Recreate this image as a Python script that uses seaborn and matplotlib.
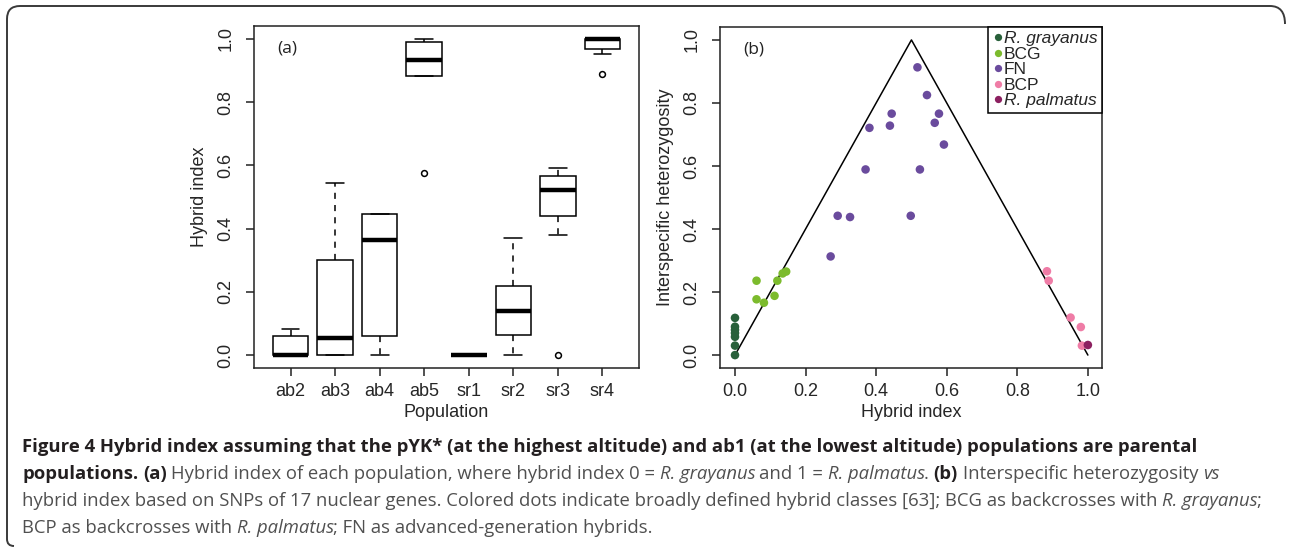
import matplotlib
matplotlib.use("Agg")
import matplotlib.pyplot as plt
import numpy as np
import pandas as pd
import seaborn as sns
from matplotlib.path import Path
from matplotlib.patches import PathPatch
from matplotlib.transforms import IdentityTransform
from matplotlib.ticker import FormatStrFormatter

populations = ["ab2", "ab3", "ab4", "ab5", "sr1", "sr2", "sr3", "sr4"]
ab2 = [0.0, 0.0, 0.0, 0.0, 0.0, 0.03, 0.061, 0.07, 0.083]
ab3 = [0.0, 0.0, 0.0, 0.02, 0.055, 0.15, 0.30, 0.45, 0.545]
ab4 = [0.0, 0.03, 0.06, 0.20, 0.365, 0.40, 0.445, 0.445, 0.445]
ab5 = [0.577, 0.883, 0.883, 0.90, 0.932, 0.96, 0.99, 1.0, 1.0]
sr1 = [0.0, 0.0, 0.0, 0.0, 0.0, 0.0, 0.0, 0.0, 0.0]
sr2 = [0.0, 0.03, 0.062, 0.10, 0.14, 0.18, 0.219, 0.30, 0.37]
sr3 = [0.0, 0.381, 0.439, 0.48, 0.521, 0.55, 0.567, 0.58, 0.592]
sr4 = [0.89, 0.951, 0.967, 0.98, 1.0, 1.0, 1.0, 1.0, 1.0]
pop_values = [ab2, ab3, ab4, ab5, sr1, sr2, sr3, sr4]

# ---- panel (b): hybrid index vs interspecific heterozygosity ----
classes = ["R. grayanus", "BCG", "FN", "BCP", "R. palmatus"]
gray_x = [0, 0, 0, 0, 0, 0, 0]
gray_y = [0.118, 0.09, 0.08, 0.07, 0.058, 0.03, 0.0]
bcg_x = [0.061, 0.061, 0.082, 0.112, 0.120, 0.135, 0.145]
bcg_y = [0.236, 0.177, 0.166, 0.188, 0.236, 0.259, 0.265]
fn_x = [0.271, 0.291, 0.326, 0.370, 0.381, 0.439, 0.444, 0.498, 0.517, 0.524, 0.544, 0.566, 0.578, 0.592]
fn_y = [0.313, 0.442, 0.438, 0.589, 0.721, 0.728, 0.766, 0.442, 0.913, 0.589, 0.825, 0.737, 0.766, 0.668]
bcp_x = [0.884, 0.889, 0.951, 0.980, 0.983]
bcp_y = [0.266, 0.236, 0.119, 0.089, 0.030]
palm_x = [1.0]
palm_y = [0.032]
class_colors = ["#28603a", "#7cbb2d", "#6a4b9d", "#ef7ca6", "#8c2060"]
tri_x = [0.0, 0.5, 1.0]
tri_y = [0.0, 1.0, 0.0]

caption = [
    [("Figure 4 Hybrid index assuming that the pYK* (at the highest altitude) and ab1 (at the lowest altitude) populations are parental", "b")],
    [("populations.", "b"), (" (a)", "b"), (" Hybrid index of each population, where hybrid index 0 = ", "r"),
     ("R. grayanus", "i"), (" and 1 = ", "r"), ("R. palmatus", "i"), (". ", "r"), ("(b)", "b"),
     (" Interspecific heterozygosity ", "r"), ("vs", "i")],
    [("hybrid index based on SNPs of 17 nuclear genes. Colored dots indicate broadly defined hybrid classes [63]; BCG as backcrosses with ", "r"),
     ("R. grayanus", "i"), (";", "r")],
    [("BCP as backcrosses with ", "r"), ("R. palmatus", "i"), ("; FN as advanced-generation hybrids.", "r")],
]

# ---------------------------------------------------------------
sns.set_style("ticks")
plt.rcParams["font.family"] = ["Liberation Sans", "DejaVu Sans"]

W, H = 1289, 547
fig = plt.figure(figsize=(W / 100, H / 100), dpi=100)

def ax_rect(l, t, r, b):
    return [l / W, 1 - b / H, (r - l) / W, (b - t) / H]

ax1 = fig.add_axes(ax_rect(254, 26, 639, 368))
ax2 = fig.add_axes(ax_rect(720, 27, 1102, 368))

lw = 1.1
fs = 13
box_df = pd.DataFrame({
    "Population": np.repeat(populations, [len(v) for v in pop_values]),
    "Hybrid index": np.concatenate(pop_values),
})
sns.boxplot(data=box_df, x="Population", y="Hybrid index", order=populations, ax=ax1,
            color="white", linecolor="black", linewidth=lw, width=0.8,
            whiskerprops={"linestyle": (0, (4, 4))},
            medianprops={"linewidth": 3.2, "solid_capstyle": "butt"},
            flierprops={"marker": "o", "markersize": 4.2, "markerfacecolor": "none",
                        "markeredgecolor": "black", "markeredgewidth": 1.1})
ax1.set_xlim(-0.82, 7.82)
ax1.set_ylim(-0.041, 1.041)

scat_df = pd.DataFrame({
    "x": np.concatenate([gray_x, bcg_x, fn_x, bcp_x, palm_x]),
    "y": np.concatenate([gray_y, bcg_y, fn_y, bcp_y, palm_y]),
    "cls": np.repeat(classes, [len(gray_x), len(bcg_x), len(fn_x), len(bcp_x), len(palm_x)]),
})
sns.lineplot(x=tri_x, y=tri_y, sort=False, color="black", linewidth=1.1, ax=ax2)
sns.scatterplot(data=scat_df, x="x", y="y", hue="cls", hue_order=classes,
                palette=dict(zip(classes, class_colors)), s=38, linewidth=0, ax=ax2, zorder=3)
ax2.set_xlim(-0.0425, 1.04)
ax2.set_ylim(-0.041, 1.041)
ax2.set_xticks([0, 0.2, 0.4, 0.6, 0.8, 1.0])

sns.move_legend(ax2, "upper right", bbox_to_anchor=(1, 1), borderaxespad=0, title=None,
                frameon=True, fancybox=False, framealpha=1, edgecolor="black",
                handletextpad=0.0, handlelength=0.7, labelspacing=0.02, borderpad=0.25,
                fontsize=12.5, markerscale=0.85)
leg = ax2.get_legend()
leg.get_frame().set_linewidth(1.1)
for t in leg.get_texts():
    if t.get_text().startswith("R."):
        t.set_fontstyle("italic")

for ax, tag, xlab, ylab in [(ax1, "(a)", "Population", "Hybrid index"),
                             (ax2, "(b)", "Hybrid index", "Interspecific heterozygosity")]:
    ax.set_yticks([0, 0.2, 0.4, 0.6, 0.8, 1.0])
    ax.yaxis.set_major_formatter(FormatStrFormatter("%.1f"))
    if ax is ax2:
        ax.xaxis.set_major_formatter(FormatStrFormatter("%.1f"))
    for s in ax.spines.values():
        s.set_linewidth(lw)
        s.set_color("#222222")
    ax.tick_params(axis="both", length=6, width=lw, color="#222222", labelsize=fs)
    ax.tick_params(axis="x", pad=5)
    ax.tick_params(axis="y", pad=8)
    for lab in ax.get_yticklabels():
        lab.set_rotation(90)
        lab.set_va("center")
    ax.set_xlabel(xlab, fontsize=fs, labelpad=3)
    ax.set_ylabel(ylab, fontsize=fs, labelpad=7)
    ax.text(0.06, 0.935, tag, transform=ax.transAxes, fontsize=12.5, va="center", ha="left",
            color="#222222", family=["Open Sans", "DejaVu Sans"])

# ---- caption (pixel coordinates) ----
fig.canvas.draw()
renderer = fig.canvas.get_renderer()
cap_font = ["Open Sans", "DejaVu Sans"]
styles = {"b": dict(fontweight="bold", color="#231f20"),
          "r": dict(fontweight="normal", color="#505050"),
          "i": dict(fontweight="normal", fontstyle="italic", color="#505050")}

def text_w(s, size, st):
    t = fig.text(0, 0, s, fontsize=size, family=cap_font, transform=IdentityTransform(), **styles[st])
    w = t.get_window_extent(renderer).width
    t.remove()
    return w

line1 = caption[0][0][0]
cap_size = 12.0 * 1168 / text_w(line1, 12.0, "b")
line_y = [447, 474, 501, 528]
for runs, yt in zip(caption, line_y):
    x = 22
    for s, st in runs:
        sp = text_w("x x", cap_size, st) - text_w("xx", cap_size, st)
        if s.startswith(" "):
            x += sp
        body = s.strip(" ")
        if body:
            t = fig.text(x, H - yt, body, fontsize=cap_size, family=cap_font, va="center", ha="left",
                         transform=IdentityTransform(), **styles[st])
            x = t.get_window_extent(renderer).x1
            if st == "i":
                x -= 1.2
        if s.endswith(" ") and body:
            x += sp

# rounded frame around figure (top and left sides)
verts = [(1285, H - 24), (1285, H - 6), (1270, H - 6),
         (20, H - 6), (7, H - 6), (7, H - 19),
         (7, 8), (7, 1), (14, 1)]
codes = [Path.MOVETO, Path.CURVE3, Path.CURVE3, Path.LINETO, Path.CURVE3, Path.CURVE3,
         Path.LINETO, Path.CURVE3, Path.CURVE3]
fig.add_artist(PathPatch(Path(verts, codes), transform=IdentityTransform(), fill=False,
                         lw=1.4, ec="#3a3a3a"))

fig.savefig("out.png", dpi=100)
